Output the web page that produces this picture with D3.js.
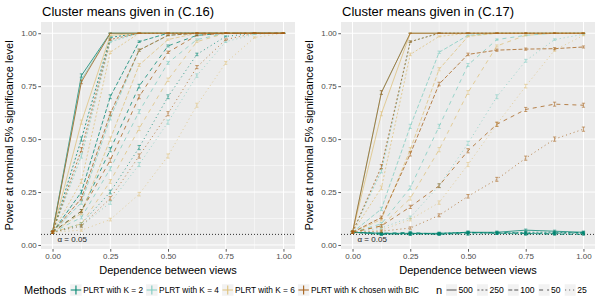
<!DOCTYPE html>
<html>
<head>
<meta charset="utf-8">
<script src="https://cdn.jsdelivr.net/npm/d3@7"></script>
<style>
  body { margin: 0; background: #fff; }
  svg { display: block; font-family: "Liberation Sans", Arial, sans-serif; }
</style>
</head>
<body>
<div id="root"></div>
<script>
const w = 600;
const h = 300;

// x positions (dependence between views)
const dependence = [0, 0.125, 0.25, 0.375, 0.5, 0.625, 0.75, 0.875, 1];
const methods = ["PLRT with K = 2", "PLRT with K = 4", "PLRT with K = 6", "PLRT with K chosen with BIC"];
const sampleSizes = ["500", "250", "100", "50", "25"];
const xTicks = [0, 0.25, 0.5, 0.75, 1];
const yTicks = [0, 0.25, 0.5, 0.75, 1];
const xMinor = [0.125, 0.375, 0.625, 0.875];
const yMinor = [0.125, 0.375, 0.625, 0.875];
const alphaLevel = 0.05;
const nReps = 2500;

// power, one row per n (500, 250, 100, 50, 25)
const c16K2 = [
  [0.06, 0.80, 1.00, 1.00, 1.00, 1.00, 1.00, 1.00, 1.00],
  [0.06, 0.50, 0.98, 1.00, 1.00, 1.00, 1.00, 1.00, 1.00],
  [0.06, 0.25, 0.70, 0.96, 1.00, 1.00, 1.00, 1.00, 1.00],
  [0.06, 0.16, 0.45, 0.75, 0.94, 0.99, 1.00, 1.00, 1.00],
  [0.06, 0.10, 0.25, 0.46, 0.70, 0.90, 0.985, 1.00, 1.00]
];
const c16K4 = [
  [0.06, 0.78, 1.00, 1.00, 1.00, 1.00, 1.00, 1.00, 1.00],
  [0.06, 0.42, 0.96, 1.00, 1.00, 1.00, 1.00, 1.00, 1.00],
  [0.06, 0.20, 0.60, 0.92, 0.99, 1.00, 1.00, 1.00, 1.00],
  [0.06, 0.13, 0.36, 0.63, 0.86, 0.97, 1.00, 1.00, 1.00],
  [0.06, 0.09, 0.20, 0.38, 0.58, 0.80, 0.96, 0.995, 1.00]
];
const c16K6 = [
  [0.06, 0.58, 0.99, 1.00, 1.00, 1.00, 1.00, 1.00, 1.00],
  [0.06, 0.30, 0.91, 1.00, 1.00, 1.00, 1.00, 1.00, 1.00],
  [0.06, 0.15, 0.50, 0.85, 0.97, 1.00, 1.00, 1.00, 1.00],
  [0.06, 0.10, 0.30, 0.55, 0.78, 0.96, 1.00, 1.00, 1.00],
  [0.06, 0.07, 0.12, 0.24, 0.42, 0.66, 0.86, 0.98, 1.00]
];
const c16BIC = [
  [0.06, 0.77, 1.00, 1.00, 1.00, 1.00, 1.00, 1.00, 1.00],
  [0.06, 0.45, 0.97, 1.00, 1.00, 1.00, 1.00, 1.00, 1.00],
  [0.06, 0.22, 0.62, 0.92, 0.99, 1.00, 1.00, 1.00, 1.00],
  [0.06, 0.16, 0.40, 0.70, 0.91, 0.99, 1.00, 1.00, 1.00],
  [0.06, 0.09, 0.22, 0.42, 0.62, 0.84, 0.97, 1.00, 1.00]
];

const c17K2 = [
  [0.06, 0.055, 0.055, 0.055, 0.06, 0.06, 0.07, 0.065, 0.06],
  [0.06, 0.055, 0.05, 0.055, 0.06, 0.055, 0.06, 0.06, 0.055],
  [0.06, 0.05, 0.055, 0.05, 0.06, 0.055, 0.055, 0.055, 0.06],
  [0.06, 0.055, 0.06, 0.05, 0.055, 0.06, 0.055, 0.05, 0.05],
  [0.06, 0.05, 0.05, 0.055, 0.05, 0.055, 0.05, 0.055, 0.055]
];
const c17K4 = [
  [0.06, 0.72, 1.00, 1.00, 1.00, 1.00, 1.00, 1.00, 1.00],
  [0.06, 0.35, 0.96, 1.00, 1.00, 1.00, 1.00, 1.00, 1.00],
  [0.06, 0.17, 0.56, 0.91, 0.99, 1.00, 1.00, 1.00, 1.00],
  [0.06, 0.10, 0.27, 0.56, 0.85, 0.97, 0.99, 1.00, 1.00],
  [0.06, 0.08, 0.13, 0.28, 0.48, 0.70, 0.87, 0.97, 0.995]
];
const c17K6 = [
  [0.06, 0.62, 1.00, 1.00, 1.00, 1.00, 1.00, 1.00, 1.00],
  [0.06, 0.27, 0.90, 0.985, 1.00, 1.00, 1.00, 1.00, 1.00],
  [0.06, 0.12, 0.45, 0.83, 0.985, 1.00, 1.00, 1.00, 1.00],
  [0.06, 0.09, 0.22, 0.45, 0.72, 0.94, 0.99, 1.00, 1.00],
  [0.06, 0.07, 0.12, 0.20, 0.38, 0.57, 0.75, 0.92, 0.99]
];
const c17BIC = [
  [0.06, 0.72, 1.00, 1.00, 1.00, 1.00, 1.00, 1.00, 1.00],
  [0.06, 0.37, 0.96, 1.00, 1.00, 1.00, 1.00, 1.00, 1.00],
  [0.06, 0.13, 0.43, 0.76, 0.90, 0.92, 0.925, 0.927, 0.935],
  [0.06, 0.09, 0.18, 0.28, 0.445, 0.57, 0.64, 0.665, 0.66],
  [0.06, 0.065, 0.08, 0.14, 0.23, 0.31, 0.41, 0.50, 0.547]
];

const panelTitles = ["Cluster means given in (C.16)", "Cluster means given in (C.17)"];
const panelData = [
  [c16K2, c16K4, c16K6, c16BIC],
  [c17K2, c17K4, c17K6, c17BIC]
];

const methodColors = ["#018571", "#80cdc1", "#dfc27d", "#a6611a"];
const dashes = [null, "2,2", "4,2", "4,4", "1,3"];

const plotTop = 22;
const plotBottom = 249;
const plotLeft = 41;
const plotWidth = 254;
const panelStep = 300;

const svg = d3.select("#root").append("svg").attr("width", w).attr("height", h);

const yScale = d3.scaleLinear().domain([-0.019, 1.053]).range([plotBottom, plotTop]);

panelTitles.forEach((title, p) => {
  const left = plotLeft + p * panelStep;
  const xScale = d3.scaleLinear().domain([-0.05, 1.05]).range([left, left + plotWidth]);
  const g = svg.append("g");

  g.append("rect")
    .attr("x", left).attr("y", plotTop)
    .attr("width", plotWidth).attr("height", plotBottom - plotTop)
    .attr("fill", "#ebebeb");

  // grid
  g.selectAll(".xminor").data(xMinor).join("line")
    .attr("x1", d => xScale(d)).attr("x2", d => xScale(d))
    .attr("y1", plotTop).attr("y2", plotBottom)
    .attr("stroke", "#fff").attr("stroke-width", 0.5);
  g.selectAll(".yminor").data(yMinor).join("line")
    .attr("y1", d => yScale(d)).attr("y2", d => yScale(d))
    .attr("x1", left).attr("x2", left + plotWidth)
    .attr("stroke", "#fff").attr("stroke-width", 0.5);
  g.selectAll(".xmajor").data(xTicks).join("line")
    .attr("x1", d => xScale(d)).attr("x2", d => xScale(d))
    .attr("y1", plotTop).attr("y2", plotBottom)
    .attr("stroke", "#fff").attr("stroke-width", 1);
  g.selectAll(".ymajor").data(yTicks).join("line")
    .attr("y1", d => yScale(d)).attr("y2", d => yScale(d))
    .attr("x1", left).attr("x2", left + plotWidth)
    .attr("stroke", "#fff").attr("stroke-width", 1);

  // alpha line
  g.append("line")
    .attr("x1", left).attr("x2", left + plotWidth)
    .attr("y1", yScale(alphaLevel)).attr("y2", yScale(alphaLevel))
    .attr("stroke", "#000").attr("stroke-width", 0.8)
    .attr("stroke-dasharray", "1,2");

  const line = d3.line().x((d, i) => xScale(dependence[i])).y(d => yScale(d));

  panelData[p].forEach((rows, m) => {
    rows.forEach((vals, k) => {
      const col = methodColors[m];
      const lg = g.append("g").attr("opacity", 0.85);
      lg.append("path")
        .attr("d", line(vals))
        .attr("fill", "none")
        .attr("stroke", col)
        .attr("stroke-width", 0.9)
        .attr("stroke-dasharray", dashes[k]);
      // error bars
      const bars = dependence.map((x, i) => {
        const v = vals[i];
        const se = Math.sqrt(v * (1 - v) / nReps);
        return { x, lo: v - se, hi: v + se };
      });
      lg.selectAll(".eb").data(bars).join("path")
        .attr("d", d => {
          const cx = xScale(d.x);
          const y1 = yScale(d.lo);
          const y2 = yScale(d.hi);
          return `M${cx - 1.6},${y1}H${cx + 1.6}M${cx},${y1}V${y2}M${cx - 1.6},${y2}H${cx + 1.6}`;
        })
        .attr("fill", "none")
        .attr("stroke", col)
        .attr("stroke-width", 0.7);
    });
  });

  g.append("text")
    .attr("x", xScale(0.085)).attr("y", yScale(0.025))
    .attr("text-anchor", "middle")
    .attr("dominant-baseline", "middle")
    .attr("font-size", 8).attr("fill", "#222")
    .text("α = 0.05");

  // axes
  const xAxis = g.append("g")
    .attr("transform", `translate(0,${plotBottom})`)
    .call(d3.axisBottom(xScale).tickValues(xTicks).tickFormat(d3.format(".2f")).tickSize(2.7).tickPadding(1.5));
  const yAxis = g.append("g")
    .attr("transform", `translate(${left},0)`)
    .call(d3.axisLeft(yScale).tickValues(yTicks).tickFormat(d3.format(".2f")).tickSize(2.7).tickPadding(1.5));
  [xAxis, yAxis].forEach(a => {
    a.select(".domain").remove();
    a.selectAll(".tick line").attr("stroke", "#333").attr("stroke-width", 0.8);
    a.selectAll(".tick text").attr("fill", "#4d4d4d").attr("font-size", 8)
      .attr("font-family", "Liberation Sans, Arial, sans-serif");
  });

  g.append("text")
    .attr("x", left + 1).attr("y", 15.5)
    .attr("font-size", 13).attr("fill", "#000")
    .text(title);

  g.append("text")
    .attr("x", left + plotWidth / 2).attr("y", 274)
    .attr("text-anchor", "middle")
    .attr("font-size", 11).attr("fill", "#000")
    .text("Dependence between views");

  g.append("text")
    .attr("transform", `translate(${p * panelStep + 13},${(plotTop + plotBottom) / 2}) rotate(-90)`)
    .attr("text-anchor", "middle")
    .attr("font-size", 11).attr("fill", "#000")
    .text("Power at nominal 5% significance level");
});

// legend
const legendY = 290;
const keySize = 11.5;
const legend = svg.append("g");
let cx = 24;

function addText(str, size) {
  const t = legend.append("text")
    .attr("x", cx).attr("y", legendY)
    .attr("dominant-baseline", "central")
    .attr("font-size", size).attr("fill", "#000")
    .text(str);
  return t.node().getComputedTextLength();
}

cx += addText("Methods", 11) + 4;
methods.forEach((mName, m) => {
  const kg = legend.append("g").attr("transform", `translate(${cx},${legendY - keySize / 2})`);
  kg.append("rect").attr("width", keySize).attr("height", keySize).attr("fill", "#f2f2f2");
  kg.append("path")
    .attr("d", `M0.5,${keySize / 2}H${keySize - 0.5}M${keySize / 2},1.2V${keySize - 1.2}`)
    .attr("stroke", methodColors[m]).attr("stroke-width", 1.1).attr("fill", "none");
  cx += keySize + 1.5;
  cx += addText(mName, 8.3) + 3;
});

cx += 14;
cx += addText("n", 11) + 4;
sampleSizes.forEach((nLab, k) => {
  const kw = 11;
  const kg = legend.append("g").attr("transform", `translate(${cx},${legendY - keySize / 2})`);
  kg.append("rect").attr("width", kw).attr("height", keySize).attr("fill", "#f2f2f2");
  kg.append("line")
    .attr("x1", 0.5).attr("x2", kw - 0.5)
    .attr("y1", keySize / 2).attr("y2", keySize / 2)
    .attr("stroke", "#555").attr("stroke-width", 1)
    .attr("stroke-dasharray", dashes[k]);
  cx += kw + 1.5;
  cx += addText(nLab, 8.6) + 4;
});
</script>
</body>
</html>
